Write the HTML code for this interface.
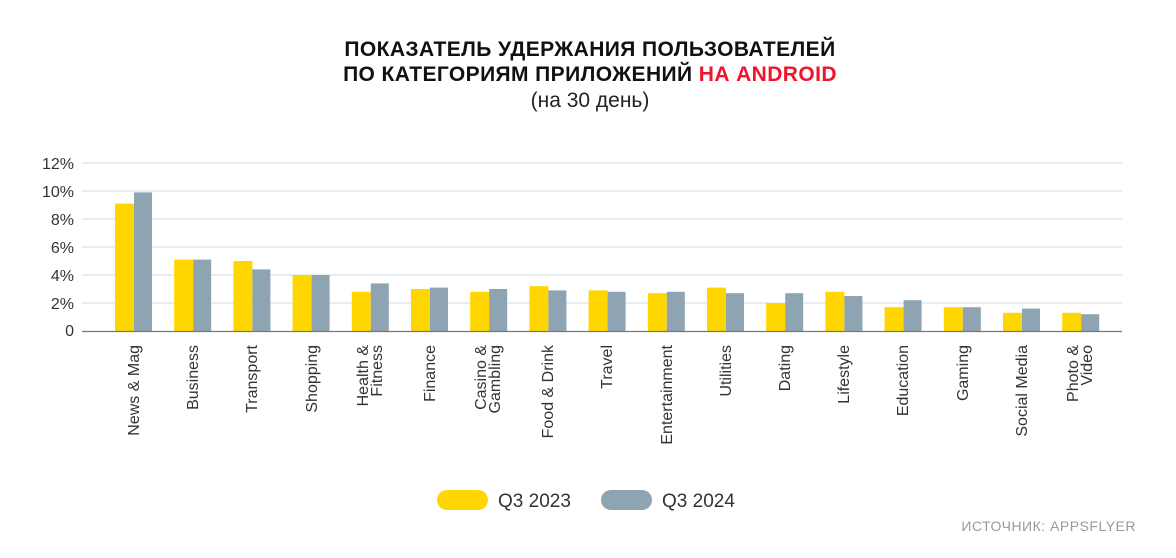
<!DOCTYPE html>
<html><head><meta charset="utf-8"><style>
body{margin:0;background:#fff}
svg{display:block;font-family:"Liberation Sans","DejaVu Sans",sans-serif}
</style></head><body>
<svg width="1176" height="558" viewBox="0 0 1176 558">
<g text-anchor="middle" fill="#111">
<text x="590" y="56" font-size="21" font-weight="bold" letter-spacing="0.4">ПОКАЗАТЕЛЬ УДЕРЖАНИЯ ПОЛЬЗОВАТЕЛЕЙ</text>
<text x="590" y="81" font-size="21" font-weight="bold" letter-spacing="0.4">ПО КАТЕГОРИЯМ ПРИЛОЖЕНИЙ <tspan fill="#f0142d">НА ANDROID</tspan></text>
<text x="590" y="107" font-size="21" fill="#222">(на 30 день)</text>
</g>
<g stroke="#d3dbe0" stroke-width="1">
<line x1="82" y1="163" x2="1122" y2="163"/><line x1="82" y1="191" x2="1122" y2="191"/>
<line x1="82" y1="219" x2="1122" y2="219"/><line x1="82" y1="247" x2="1122" y2="247"/>
<line x1="82" y1="275" x2="1122" y2="275"/><line x1="82" y1="303" x2="1122" y2="303"/>
</g>
<g font-size="16" fill="#333" text-anchor="end">
<text x="74" y="169">12%</text><text x="74" y="197">10%</text><text x="74" y="225">8%</text>
<text x="74" y="253">6%</text><text x="74" y="281">4%</text><text x="74" y="309">2%</text><text x="74" y="336">0</text>
</g>
<g fill="#ffd600">
<rect x="115" y="203.6" width="19" height="127.4"/><rect x="174.2" y="259.6" width="19" height="71.4"/>
<rect x="233.4" y="261" width="19" height="70"/><rect x="292.6" y="275" width="19" height="56"/>
<rect x="351.8" y="291.8" width="19" height="39.2"/><rect x="411" y="289" width="19" height="42"/>
<rect x="470.2" y="291.8" width="19" height="39.2"/><rect x="529.4" y="286.2" width="19" height="44.8"/>
<rect x="588.6" y="290.4" width="19" height="40.6"/><rect x="647.8" y="293.2" width="19" height="37.8"/>
<rect x="707" y="287.6" width="19" height="43.4"/><rect x="766.2" y="303" width="19" height="28"/>
<rect x="825.4" y="291.8" width="19" height="39.2"/><rect x="884.6" y="307.2" width="19" height="23.8"/>
<rect x="943.8" y="307.2" width="19" height="23.8"/><rect x="1003" y="312.8" width="19" height="18.2"/>
<rect x="1062.2" y="312.8" width="19" height="18.2"/>
</g>
<g fill="#8ea4b2">
<rect x="134" y="192.4" width="18" height="138.6"/><rect x="193.2" y="259.6" width="18" height="71.4"/>
<rect x="252.4" y="269.4" width="18" height="61.6"/><rect x="311.6" y="275" width="18" height="56"/>
<rect x="370.8" y="283.4" width="18" height="47.6"/><rect x="430" y="287.6" width="18" height="43.4"/>
<rect x="489.2" y="289" width="18" height="42"/><rect x="548.4" y="290.4" width="18" height="40.6"/>
<rect x="607.6" y="291.8" width="18" height="39.2"/><rect x="666.8" y="291.8" width="18" height="39.2"/>
<rect x="726" y="293.2" width="18" height="37.8"/><rect x="785.2" y="293.2" width="18" height="37.8"/>
<rect x="844.4" y="296" width="18" height="35"/><rect x="903.6" y="300.2" width="18" height="30.8"/>
<rect x="962.8" y="307.2" width="18" height="23.8"/><rect x="1022" y="308.6" width="18" height="22.4"/>
<rect x="1081.2" y="314.2" width="18" height="16.8"/>
</g>
<line x1="82" y1="331.5" x2="1122" y2="331.5" stroke="#777" stroke-width="1.2"/>
<g font-size="16" fill="#333" text-anchor="end">
<text transform="translate(139,345) rotate(-90)">News &amp; Mag</text>
<text transform="translate(198,345) rotate(-90)">Business</text>
<text transform="translate(257,345) rotate(-90)">Transport</text>
<text transform="translate(317,345) rotate(-90)">Shopping</text>
<text transform="translate(368,345) rotate(-90)">Health &amp;</text>
<text transform="translate(382,345) rotate(-90)">Fitness</text>
<text transform="translate(435,345) rotate(-90)">Finance</text>
<text transform="translate(486,345) rotate(-90)">Casino &amp;</text>
<text transform="translate(500,345) rotate(-90)">Gambling</text>
<text transform="translate(553,345) rotate(-90)">Food &amp; Drink</text>
<text transform="translate(612,345) rotate(-90)">Travel</text>
<text transform="translate(672,345) rotate(-90)">Entertainment</text>
<text transform="translate(731,345) rotate(-90)">Utilities</text>
<text transform="translate(790,345) rotate(-90)">Dating</text>
<text transform="translate(849,345) rotate(-90)">Lifestyle</text>
<text transform="translate(908,345) rotate(-90)">Education</text>
<text transform="translate(968,345) rotate(-90)">Gaming</text>
<text transform="translate(1027,345) rotate(-90)">Social Media</text>
<text transform="translate(1078,345) rotate(-90)">Photo &amp;</text>
<text transform="translate(1092,345) rotate(-90)">Video</text>
</g>
<rect x="437" y="490" width="51" height="20" rx="10" fill="#ffd600"/>
<text x="498" y="507" font-size="19" fill="#333">Q3 2023</text>
<rect x="601" y="490" width="51" height="20" rx="10" fill="#8ea4b2"/>
<text x="662" y="507" font-size="19" fill="#333">Q3 2024</text>
<text x="1136" y="531" font-size="14" fill="#9a9a9a" text-anchor="end" letter-spacing="0.5">ИСТОЧНИК: APPSFLYER</text>
</svg>
</body></html>
